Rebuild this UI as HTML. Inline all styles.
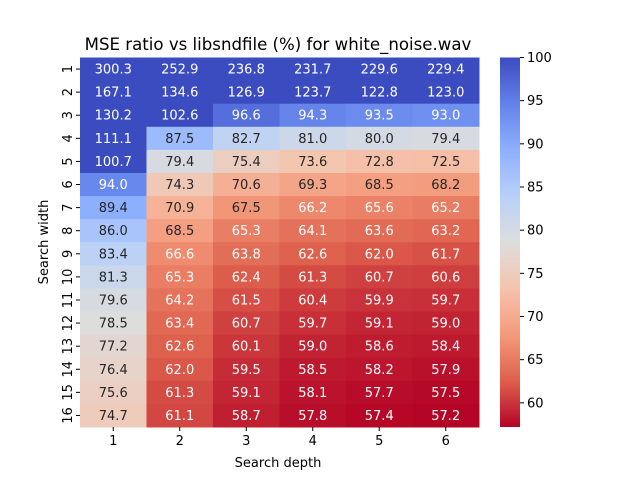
<!DOCTYPE html>
<html><head><meta charset="utf-8"><style>
body{margin:0;background:#fff;}
svg text{font-family:"DejaVu Sans","Liberation Sans",sans-serif;}
</style></head><body>
<svg id="c" width="640" height="480" xmlns="http://www.w3.org/2000/svg">
<defs><linearGradient id="cbg" x1="0" y1="1" x2="0" y2="0"></linearGradient></defs>
<text x="278" y="50" font-size="16.6" text-anchor="middle">MSE ratio vs libsndfile (%) for white_noise.wav</text>
<g id="cells"></g>
<g id="xt"></g><g id="yt"></g><g id="cb"></g>
<text x="278" y="467" font-size="13" text-anchor="middle">Search depth</text>
<text transform="translate(48,242) rotate(-90)" font-size="13" text-anchor="middle">Search width</text>
</svg>
<script>
const depths=[1,2,3,4,5,6];
const widths=[1,2,3,4,5,6,7,8,9,10,11,12,13,14,15,16];
const values=[
[300.3,252.9,236.8,231.7,229.6,229.4],
[167.1,134.6,126.9,123.7,122.8,123.0],
[130.2,102.6,96.6,94.3,93.5,93.0],
[111.1,87.5,82.7,81.0,80.0,79.4],
[100.7,79.4,75.4,73.6,72.8,72.5],
[94.0,74.3,70.6,69.3,68.5,68.2],
[89.4,70.9,67.5,66.2,65.6,65.2],
[86.0,68.5,65.3,64.1,63.6,63.2],
[83.4,66.6,63.8,62.6,62.0,61.7],
[81.3,65.3,62.4,61.3,60.7,60.6],
[79.6,64.2,61.5,60.4,59.9,59.7],
[78.5,63.4,60.7,59.7,59.1,59.0],
[77.2,62.6,60.1,59.0,58.6,58.4],
[76.4,62.0,59.5,58.5,58.2,57.9],
[75.6,61.3,59.1,58.1,57.7,57.5],
[74.7,61.1,58.7,57.8,57.4,57.2]];
const cbTicks=[60,65,70,75,80,85,90,95,100];
const vmin=57.2,vmax=100;
const L=80,R=479,T=57.5,B=427,cw=(R-L)/depths.length,rh=(B-T)/widths.length;
const stops=[[59,76,192],[98,130,234],[141,176,254],[184,208,249],[221,221,221],[245,196,173],[244,154,123],[222,96,77],[180,4,38]];
function cool(s){s=Math.max(0,Math.min(1,s));const p=s*8,i=Math.min(7,Math.floor(p)),f=p-i;return stops[i].map((a,k)=>a+(stops[i+1][k]-a)*f);}
function col(v){return cool(1-(v-vmin)/(vmax-vmin));}
function dark(v){return v>=67&&v<=91;}
const NS="http://www.w3.org/2000/svg";
function mk(t,a,p){const e=document.createElementNS(NS,t);for(const k in a)e.setAttribute(k,a[k]);p.appendChild(e);return e;}
const cells=document.getElementById('cells');
values.forEach((row,r)=>row.forEach((v,c)=>{
 const cc=col(v);
 const rect=mk('rect',{x:L+c*cw,y:T+r*rh,width:cw+0.5,height:rh+0.5,fill:`rgb(${cc.map(Math.round).join(',')})`},cells);
 
 
 const t=mk('text',{x:L+(c+0.5)*cw,y:T+(r+0.5)*rh+4.5,'font-size':13,'text-anchor':'middle',fill:dark(v)?'#262626':'#fff'},cells);
 t.textContent=v.toFixed(1);
 
 
}));
const xt=document.getElementById('xt');
depths.forEach((d,i)=>{const x=L+(i+0.5)*cw;mk('line',{x1:x,x2:x,y1:B,y2:B+4,stroke:'#000'},xt);
 const t=mk('text',{x:x,y:B+18,'font-size':13,'text-anchor':'middle'},xt);t.textContent=d;
 
 });
const yt=document.getElementById('yt');
widths.forEach((w,i)=>{const y=T+(i+0.5)*rh;mk('line',{x1:L-4,x2:L,y1:y,y2:y,stroke:'#000'},yt);
 const t=mk('text',{transform:`translate(${L-8},${y}) rotate(-90)`,'font-size':13,'text-anchor':'middle'},yt);t.textContent=w;
 
 });
const g=document.getElementById('cbg');
for(let i=0;i<=16;i++){const s=i/16;const cc=cool(1-s);mk('stop',{offset:s,'stop-color':`rgb(${cc.map(Math.round).join(',')})`},g);}
const cb=document.getElementById('cb');
const CX=500,CW=20;
const bar=mk('rect',{x:CX,y:T,width:CW,height:B-T,fill:'url(#cbg)'},cb);


cbTicks.forEach(v=>{const y=B-(v-vmin)/(vmax-vmin)*(B-T);mk('line',{x1:CX+CW,x2:CX+CW+4,y1:y,y2:y,stroke:'#000'},cb);
 const t=mk('text',{x:CX+CW+7,y:y+4.5,'font-size':13},cb);t.textContent=v;
 
 });
</script>
</body></html>
